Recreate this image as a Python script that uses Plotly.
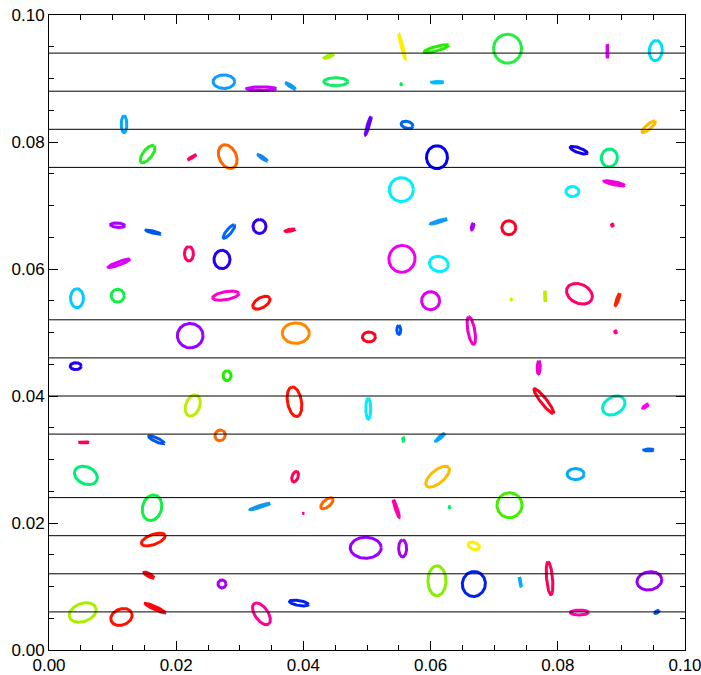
import numpy as np
import plotly.graph_objects as go

# Ellipse data: centre (x, y), semi-axes (a along angle, b), angle in degrees, colour
cx = [0.0118, 0.0155, 0.0225, 0.0108, 0.0440, 0.0275, 0.0334, 0.0380, 0.0451, 0.0281,
      0.0336, 0.0502, 0.0555, 0.0609, 0.0721, 0.0554, 0.0611, 0.0563, 0.0610, 0.0554,
      0.0613, 0.0666, 0.0723, 0.0878, 0.0954, 0.0943, 0.0833, 0.0881, 0.0889, 0.0823,
      0.0886, 0.0164, 0.0220, 0.0110, 0.0044, 0.0108, 0.0222, 0.0042, 0.0226, 0.0169,
      0.0283, 0.0331, 0.0379, 0.0272, 0.0278, 0.0334, 0.0388, 0.0503, 0.0280, 0.0386,
      0.0502, 0.0269, 0.0555, 0.0613, 0.0600, 0.0727, 0.0550, 0.0664, 0.0557, 0.0615,
      0.0780, 0.0834, 0.0894, 0.0891, 0.0770, 0.0778, 0.0888, 0.0938, 0.0055, 0.0058,
      0.0162, 0.0164, 0.0157, 0.0167, 0.0053, 0.0114, 0.0387, 0.0332, 0.0400, 0.0437,
      0.0498, 0.0272, 0.0334, 0.0393, 0.0611, 0.0546, 0.0630, 0.0724, 0.0556, 0.0668,
      0.0610, 0.0668, 0.0741, 0.0943, 0.0828, 0.0787, 0.0944, 0.0834, 0.0956]
cy = [0.0828, 0.0781, 0.0776, 0.0669, 0.0935, 0.0895, 0.0884, 0.0888, 0.0895, 0.0777,
      0.0775, 0.0826, 0.0951, 0.0947, 0.0947, 0.0891, 0.0894, 0.0827, 0.0776, 0.0725,
      0.0675, 0.0667, 0.0665, 0.0943, 0.0944, 0.0824, 0.0787, 0.0775, 0.0735, 0.0722,
      0.0669, 0.0658, 0.0624, 0.0609, 0.0554, 0.0558, 0.0495, 0.0447, 0.0385, 0.0331,
      0.0659, 0.0667, 0.0661, 0.0615, 0.0558, 0.0547, 0.0499, 0.0493, 0.0432, 0.0391,
      0.0380, 0.0338, 0.0616, 0.0608, 0.0550, 0.0552, 0.0504, 0.0503, 0.0332, 0.0335,
      0.0557, 0.0561, 0.0552, 0.0501, 0.0445, 0.0392, 0.0385, 0.0384, 0.0327, 0.0275,
      0.0224, 0.0174, 0.0118, 0.0066, 0.0059, 0.0052, 0.0273, 0.0226, 0.0215, 0.0231,
      0.0161, 0.0104, 0.0057, 0.0074, 0.0273, 0.0223, 0.0225, 0.0228, 0.0160, 0.0164,
      0.0109, 0.0104, 0.0107, 0.0315, 0.0277, 0.0113, 0.0109, 0.0059, 0.0060]
ra = [0.00134, 0.00165, 0.00079, 0.00113, 0.00079, 0.00170, 0.00233, 0.00087, 0.00189, 0.00197,
      0.00087, 0.00150, 0.00205, 0.00197, 0.00228, 0.00008, 0.00095, 0.00095, 0.00181, 0.00189,
      0.00134, 0.00055, 0.00110, 0.00110, 0.00160, 0.00134, 0.00142, 0.00142, 0.00165, 0.00102,
      0.00016, 0.00118, 0.00113, 0.00181, 0.00150, 0.00102, 0.00202, 0.00087, 0.00173, 0.00134,
      0.00134, 0.00110, 0.00079, 0.00145, 0.00209, 0.00150, 0.00213, 0.00102, 0.00079, 0.00236,
      0.00165, 0.00087, 0.00213, 0.00150, 0.00142, 0.00008, 0.00071, 0.00220, 0.00031, 0.00095,
      0.00087, 0.00213, 0.00102, 0.00016, 0.00102, 0.00244, 0.00189, 0.00055, 0.00079, 0.00189,
      0.00205, 0.00197, 0.00087, 0.00173, 0.00220, 0.00173, 0.00087, 0.00165, 0.00016, 0.00118,
      0.00244, 0.00063, 0.00197, 0.00150, 0.00228, 0.00142, 0.00008, 0.00197, 0.00134, 0.00095,
      0.00236, 0.00197, 0.00079, 0.00079, 0.00134, 0.00260, 0.00197, 0.00142, 0.00039]
rb = [0.00044, 0.00071, 0.00010, 0.00035, 0.00016, 0.00107, 0.00028, 0.00016, 0.00063, 0.00134,
      0.00016, 0.00016, 0.00013, 0.00035, 0.00220, 0.00008, 0.00013, 0.00055, 0.00165, 0.00189,
      0.00016, 0.00016, 0.00110, 0.00008, 0.00102, 0.00039, 0.00039, 0.00126, 0.00024, 0.00079,
      0.00016, 0.00016, 0.00071, 0.00027, 0.00102, 0.00102, 0.00192, 0.00055, 0.00110, 0.00031,
      0.00039, 0.00102, 0.00016, 0.00126, 0.00063, 0.00079, 0.00161, 0.00079, 0.00063, 0.00110,
      0.00039, 0.00079, 0.00205, 0.00118, 0.00142, 0.00008, 0.00031, 0.00055, 0.00008, 0.00016,
      0.00008, 0.00150, 0.00016, 0.00016, 0.00024, 0.00047, 0.00134, 0.00016, 0.00008, 0.00134,
      0.00150, 0.00079, 0.00024, 0.00024, 0.00142, 0.00126, 0.00047, 0.00016, 0.00003, 0.00055,
      0.00165, 0.00063, 0.00102, 0.00039, 0.00102, 0.00016, 0.00008, 0.00197, 0.00063, 0.00055,
      0.00142, 0.00181, 0.00008, 0.00016, 0.00087, 0.00047, 0.00142, 0.00039, 0.00016]
angle = [90, 52, 30, -5, 20, 0, 0, -35, 0, 115,
         -35, 73, 104, 15, 90, 0, 0, -15, 90, 0,
         16, 75, 0, 90, 85, 40, -20, 80, -12, 0,
         0, -15, 90, 20, 90, 0, 0, 0, 70, -25,
         50, 90, 10, 90, 10, 30, 0, 0, 90, 100,
         90, 60, 70, -15, 0, 0, 90, 100, 90, 40,
         92, -25, 70, 0, 88, -52, 30, 35, 0, -25,
         75, 20, -30, -25, 20, 20, 70, 17, 0, 40,
         0, 0, -55, -10, 40, 108, 0, 0, 90, -20,
         90, 80, 100, 0, 0, 95, 10, 0, 30]
colors = ["#00aaff", "#22ee22", "#ff0066", "#aa00ff", "#aaee00", "#1199ff", "#cc00ff", "#1199ee", "#11ee66", "#ff6600",
          "#1188ee", "#6600ff", "#ffee00", "#22ee00", "#22ee44", "#00ee44", "#00bbff", "#0066ee", "#0000ee", "#00eeff",
          "#1199ff", "#aa00ff", "#ff0022", "#dd00ee", "#00ddff", "#ffbb00", "#1100ee", "#00ee77", "#ee00dd", "#00eeff",
          "#ff0077", "#0055ee", "#ff0066", "#dd00ff", "#00ccff", "#11ee44", "#9900ff", "#2200ff", "#bbee00", "#0055ee",
          "#0066ff", "#3300ee", "#ff0044", "#2200ee", "#ff00cc", "#ff0a00", "#ff8800", "#ff0022", "#22ee00", "#ff1100",
          "#00eeff", "#ff6600", "#ee00ee", "#00eeff", "#dd00ee", "#bbff00", "#0055ff", "#ee00cc", "#00ee66", "#00aaff",
          "#bbee00", "#ff0066", "#ff2200", "#ff0099", "#ee00cc", "#ff0022", "#00eecc", "#ff00ff", "#ff0055", "#00ee77",
          "#11ee44", "#ff1100", "#ff0011", "#ff0011", "#aaee00", "#ff1100", "#ff0055", "#1199ee", "#ff00aa", "#ff6600",
          "#9900ff", "#aa00ee", "#ff0099", "#0022ee", "#ffbb00", "#ff00aa", "#00ee66", "#44ee00", "#aa00ee", "#ffee00",
          "#88ee00", "#0022ee", "#00aaff", "#0066ee", "#00aaff", "#ff0055", "#9900ee", "#ff00aa", "#0055ee"]

# Horizontal reference lines
hlines = [0.094, 0.088, 0.082, 0.076, 0.052, 0.046, 0.040, 0.034, 0.024, 0.018, 0.012, 0.006]

# Tick labels
tick_vals = [0.0, 0.02, 0.04, 0.06, 0.08, 0.10]
tick_text = ["0.00", "0.02", "0.04", "0.06", "0.08", "0.10"]

fig = go.Figure()
t = np.linspace(0, 2 * np.pi, 120)
for x0, y0, a, b, ang, c in zip(cx, cy, ra, rb, angle, colors):
    th = np.deg2rad(ang)
    ex = x0 + a * np.cos(t) * np.cos(th) - b * np.sin(t) * np.sin(th)
    ey = y0 + a * np.cos(t) * np.sin(th) + b * np.sin(t) * np.cos(th)
    fig.add_trace(go.Scatter(x=ex, y=ey, mode="lines", line=dict(color=c, width=3),
                             hoverinfo="skip", showlegend=False))

for h in hlines:
    fig.add_shape(type="line", xref="x", yref="y", x0=0, x1=0.1, y0=h, y1=h,
                  line=dict(color="black", width=1))

axis_common = dict(range=[0, 0.1], tickmode="array", tickvals=tick_vals, ticktext=tick_text,
                   ticks="inside", ticklen=9, tickwidth=1, tickcolor="black",
                   showline=True, linecolor="black", linewidth=1, mirror="ticks",
                   showgrid=False, zeroline=False, automargin=False, ticklabeloverflow="allow",
                   tickfont=dict(family="Liberation Sans, Arial, sans-serif", size=17, color="black"),
                   minor=dict(tickmode="linear", tick0=0, dtick=0.005, ticks="inside", ticklen=5,
                              tickcolor="black", showgrid=False))
fig.update_xaxes(**axis_common)
fig.update_yaxes(**axis_common)
fig.update_layout(width=701, height=675, plot_bgcolor="white", paper_bgcolor="white",
                  template="none",
                  margin=dict(l=49, r=16, t=15, b=25), showlegend=False)

fig.write_html("out.html", config={"displayModeBar": False},
               post_script="document.body.style.margin='0';document.body.style.overflow='hidden';")
